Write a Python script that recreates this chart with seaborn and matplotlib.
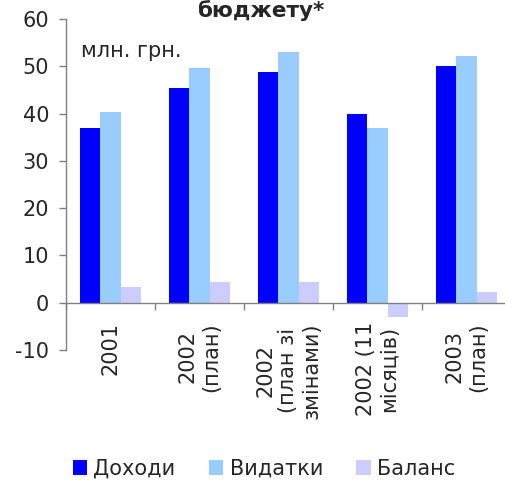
import matplotlib
matplotlib.use("Agg")
import matplotlib.pyplot as plt
import seaborn as sns
import pandas as pd
import numpy as np

categories = ["2001", "2002\n(план)", "2002\n(план зі\nзмінами)", "2002 (11\nмісяців)", "2003\n(план)"]
series_names = ["Доходи", "Видатки", "Баланс"]
dohody = [36.9, 45.4, 48.8, 39.9, 50.0]
vydatky = [40.3, 49.6, 53.0, 36.9, 52.2]
balans = [3.4, 4.3, 4.3, -3.0, 2.2]
colors = ["#0000FF", "#99CCFF", "#CCCCFF"]
yticks = [-10, 0, 10, 20, 30, 40, 50, 60]

sns.set_style("white")
plt.rcParams['font.family'] = ['DejaVu Sans']
plt.rcParams['axes.unicode_minus'] = False

rows = []
for name, vals in zip(series_names, [dohody, vydatky, balans]):
    for c, v in zip(categories, vals):
        rows.append({"cat": c, "series": name, "value": v})
df = pd.DataFrame(rows)

fs = 15

fig = plt.figure(figsize=(5.06, 4.84), dpi=100)
ax = fig.add_axes([66/506, (484-350)/484, 445/506, 331/484])
sns.barplot(data=df, x="cat", y="value", hue="series", order=categories,
            hue_order=series_names, palette=colors, width=0.69, gap=0,
            saturation=1, linewidth=0, ax=ax, legend=True)

ax.set_xlim(-0.5, 4.5)
ax.set_ylim(-10, 60)
ax.set_yticks(yticks)
ax.set_xlabel("")
ax.set_ylabel("")

for s in ["top", "right"]:
    ax.spines[s].set_visible(False)
ax.spines["bottom"].set_position(("data", 0))
for s in ["left", "bottom"]:
    ax.spines[s].set_color("#808080")
    ax.spines[s].set_linewidth(1.0)

ax.tick_params(axis="y", length=5, width=1, color="#808080", labelsize=fs, pad=7, direction="out", left=True)
ax.set_xticks(range(len(categories)))
ax.set_xticklabels(categories, rotation=90, fontsize=fs, multialignment="center")
ax.tick_params(axis="x", length=0, pad=14)
ax.set_xticks(np.arange(-0.5, 5.0, 1.0), minor=True)
ax.tick_params(axis="x", which="minor", length=5, width=1, color="#808080", direction="out", bottom=True)

fig.text(81/506, 1 - 57/484, "млн. грн.", fontsize=fs, va="baseline", ha="left")

fig.text(0.515, 1 - 17/484, "бюджету*", fontsize=15.5, fontweight="bold", ha="center", va="baseline")

handles, labels = ax.get_legend_handles_labels()
ax.legend_.remove()
fig.legend(handles, labels, loc="center", bbox_to_anchor=(264/506, 1 - 469/484), ncol=3,
           frameon=False, fontsize=fs, handlelength=0.7, handleheight=0.7,
           handletextpad=0.3, columnspacing=1.6, borderpad=0)

fig.savefig("out.png", dpi=100)
